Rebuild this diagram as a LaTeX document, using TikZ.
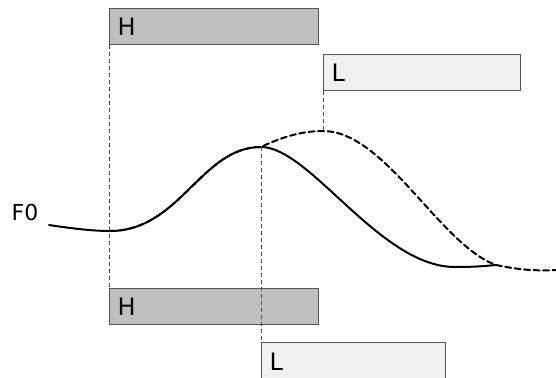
\documentclass[tikz,border=0pt]{standalone}
\usepackage{fontspec}
\setmainfont{DejaVu Sans}
\usepackage{xcolor}
\definecolor{toneH}{RGB}{191,191,191}
\definecolor{toneL}{RGB}{241,241,241}
\definecolor{edge}{RGB}{85,85,85}
\definecolor{guide}{RGB}{80,80,80}
\tikzset{
  tonebox/.style={draw=edge, line width=1.2pt, anchor=north west, minimum height=36pt,
    inner xsep=8pt, align=left, font=\fontsize{24}{26}\selectfont},
  guideline/.style={draw=guide, line width=1pt, dash pattern=on 4pt off 3pt},
  contour/.style={line width=2pt, line cap=round}
}

\begin{document}
\begin{tikzpicture}[x=1pt,y=-1pt]
\useasboundingbox (0,0) rectangle (556,377);
\node[tonebox, fill=toneH, text width=193pt] (hTop) at (109,8) {H};
\node[tonebox, fill=toneL, text width=181pt] (lTop) at (323,54) {L};
\node[tonebox, fill=toneH, text width=193pt] (hBot) at (109,288) {H};
\node[tonebox, fill=toneL, text width=168pt, minimum height=39pt] (lBot) at (261,342) {L};
\node[font=\fontsize{22}{24}\selectfont] (f0) at (25,212) {F0};

\coordinate (s0) at (49,225);
\coordinate (s1) at (110,231);
\coordinate (pk) at (261,147);
\coordinate (s2) at (455,267);
\coordinate (jn) at (496,265);
\coordinate (dp) at (323,131);
\coordinate (de) at (558,270);

\draw[contour] (s0) .. controls (75,229) and (95,231) .. (s1)
  .. controls (180,231) and (201,147) .. (pk)
  .. controls (310,147) and (380,267) .. (s2)
  .. controls (475,267) and (485,266) .. (jn);
\draw[contour, dash pattern=on 6pt off 3.5pt] (s1)
  .. controls (180,231) and (201,147) .. (pk)
  .. controls (280,138) and (300,131) .. (dp)
  .. controls (385,131) and (440,245) .. (jn)
  .. controls (520,270) and (535,271) .. (de);

\draw[guideline] (hTop.south west) -- (hBot.north west);
\draw[guideline] (pk) -- (lBot.north west);
\draw[guideline] (lTop.south west) -- (dp);
\end{tikzpicture}
\end{document}
